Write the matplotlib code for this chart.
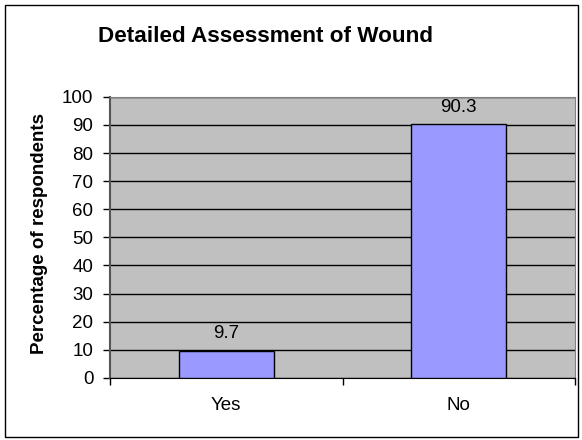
import matplotlib.pyplot as plt
from matplotlib.patches import Rectangle

plt.rcParams["font.family"] = ["Liberation Sans", "DejaVu Sans"]

# Survey answers
categories = ["Yes", "No"]
percentages = [9.7, 90.3]
y_ticks = list(range(0, 101, 10))

fig = plt.figure(figsize=(5.82, 4.40), dpi=100)
ax = fig.add_axes([0.189, 0.141, 0.799, 0.639])

# outer chart frame
fig.patches.append(Rectangle((5 / 582, 3 / 440), 573 / 582, 432 / 440,
                             transform=fig.transFigure, fill=False,
                             edgecolor="black", linewidth=1))

ax.set_facecolor("#C0C0C0")
x = range(len(categories))
bars = ax.bar(x, percentages, width=0.41, color="#9999FF",
              edgecolor="black", linewidth=1, zorder=3)

for xi, v in zip(x, percentages):
    ax.text(xi, v + 3, f"{v}", ha="center", va="bottom", fontsize=13.5)

ax.set_xlim(-0.5, 1.5)
ax.set_ylim(0, 100)
ax.set_yticks(y_ticks)
ax.yaxis.grid(True, color="black", linewidth=1, zorder=1)
ax.set_axisbelow(True)

ax.set_xticks([-0.5, 0.5, 1.5])
ax.set_xticklabels([])
ax.set_xticks(list(x), minor=True)
ax.set_xticklabels(categories, minor=True, fontsize=13.5)
ax.tick_params(axis="x", which="minor", length=0, pad=14)
ax.tick_params(axis="x", which="major", length=5, width=1, direction="out")
ax.tick_params(axis="y", length=5, width=1, labelsize=13.5, pad=7)

for side in ["top", "right"]:
    ax.spines[side].set_color("#808080")
ax.spines["left"].set_color("#555555")
ax.spines["left"].set_linewidth(1.5)
ax.spines["bottom"].set_color("black")

fig.text(40 / 582, 1 - 233 / 440, "Percentage of respondents", rotation=90,
         ha="center", va="center", fontsize=13.5, fontweight="bold")
fig.text(265 / 582, 0.918, "Detailed Assessment of Wound", ha="center", va="center",
         fontsize=16.2, fontweight="bold")

fig.savefig("out.png", dpi=100)
